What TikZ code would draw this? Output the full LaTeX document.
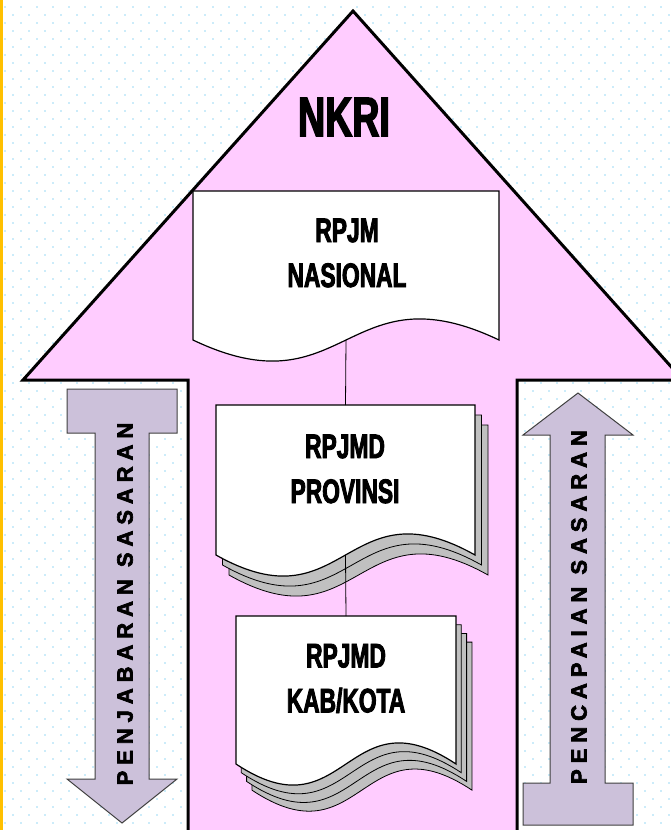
\documentclass[tikz,border=0pt]{standalone}
\usepackage{fontspec}
\setmainfont{Liberation Sans}
\newfontfamily\narrowfont[FakeStretch=0.67, FakeBold=2.5]{Liberation Sans Bold}
\newfontfamily\spacedfont[LetterSpace=27, FakeBold=3]{Liberation Sans Bold}
\usetikzlibrary{calc}
\definecolor{housepink}{HTML}{FFCCFF}
\definecolor{arrowlilac}{HTML}{CCC1DA}
\definecolor{pagegray}{HTML}{C0C0C0}
\definecolor{dotblue}{HTML}{CCECFA}
\definecolor{rulegold}{HTML}{FFC000}
\tikzset{
	super thick/.style={line width=3pt},
	docfront/.style={draw=black, line width=1.2pt, fill=white},
	docback/.style={draw=black, line width=0.8pt, fill=pagegray},
	sidearrow/.style={draw=black!75, line width=1pt, fill=arrowlilac},
	doclabel/.style={font=\narrowfont\fontsize{34}{45}\selectfont, align=center, inner sep=0pt},
	sidelabel/.style={font=\spacedfont\fontsize{22}{22}\selectfont, rotate=90, inner sep=0pt}
}
\newcommand{\dokumen}[6]{
	\draw[#6] ({#2},{#3}) -- ({#4},{#3}) -- ({#4},{#5}) .. controls ({(#2+#4)/2},{#5-73}) and ({(#2+#4)/2},{#5+73}) .. ({#2},{#5}) -- cycle;
	\coordinate (#1-top) at ({(#2+#4)/2},{#3});
	\coordinate (#1-bot) at ({(#2+#4)/2},{#5});
}

\begin{document}
\begin{tikzpicture}[x=1pt, y=-1pt]
	\useasboundingbox (0,0) rectangle (671,830);
	\clip (0,0) rectangle (671,830);
	\fill[white] (0,0) rectangle (671,830);
%	dotted slide background
	\foreach \k in {0,...,102} {
		\pgfmathsetmacro{\yy}{6.5+8*\k}
		\pgfmathsetmacro{\ph}{ifthenelse(mod(\k,2)==0,12,4)}
		\draw[dotblue, line width=2pt, dash pattern=on 2pt off 14pt, dash phase=\ph pt] (0,\yy) -- (671,\yy);
	}
	\draw[rulegold, line width=3pt] (1.5,0) -- (1.5,830);
%
	\draw[super thick, fill=housepink, line join=miter] (188,835) -- (188,380) -- (23,380) -- (353,11) -- (683,380) -- (517,380) -- (517,835);
%
	\draw[sidearrow] (67,389) -- (177,389) -- (177,433) -- (149,433) -- (149,779) -- (177,779) -- (122,823) -- (67,779) -- (95,779) -- (95,433) -- (67,433) -- cycle;
	\draw[sidearrow] (578,393) -- (633,435) -- (605,435) -- (605,783) -- (633,783) -- (633,825) -- (523,825) -- (523,783) -- (550,783) -- (550,435) -- (523,435) -- cycle;
%
	\dokumen{nas}{193}{191}{499}{340}{docfront}
	\foreach \s in {2,1} {\dokumen{prov-b\s}{216+6.5*\s}{405+10*\s}{475+6.5*\s}{555+10*\s}{docback}}
	\dokumen{prov}{216}{405}{475}{555}{docfront}
	\foreach \s in {3,2,1} {\dokumen{kab-b\s}{236+5.3*\s}{616+8.7*\s}{456+5.3*\s}{764+8.7*\s}{docback}}
	\dokumen{kab}{236}{616}{456}{764}{docfront}
%
	\draw[line width=0.8pt] (nas-bot) -- (prov-top);
	\draw[line width=0.8pt] (prov-bot) -- (kab-top);
%
	\node[font=\narrowfont\fontsize{56}{60}\selectfont, inner sep=0pt] (nkri) at (344,117) {NKRI};
	\node[doclabel] (nas-text) at (347,253) {RPJM\\NASIONAL};
	\node[doclabel] (prov-text) at (345,469) {RPJMD\\PROVINSI};
	\node[doclabel] (kab-text) at (346,678.5) {RPJMD\\KAB/KOTA};
	\node[sidelabel] (turun) at (125,604) {PENJABARAN SASARAN};
	\node[sidelabel] (naik) at (579,607) {PENCAPAIAN SASARAN};
\end{tikzpicture}
\end{document}
